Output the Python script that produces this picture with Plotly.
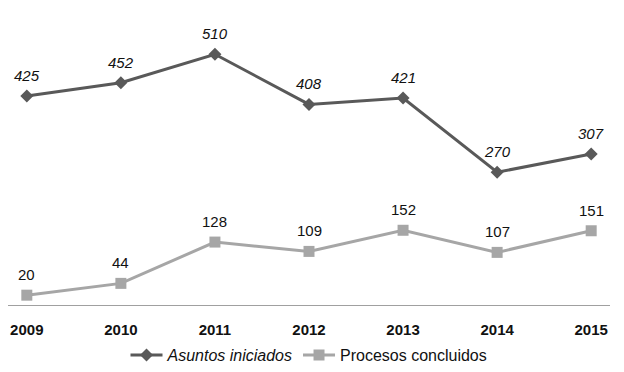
import plotly.graph_objects as go

years = [2009, 2010, 2011, 2012, 2013, 2014, 2015]
asuntos = [425, 452, 510, 408, 421, 270, 307]
procesos = [20, 44, 128, 109, 152, 107, 151]

dark = "#595959"
light = "#A6A6A6"
FONT = "Liberation Sans, Arial"

fig = go.Figure()
fig.add_trace(go.Scatter(
    x=years, y=asuntos, mode="lines+markers", name="<i>Asuntos iniciados</i>",
    line=dict(color=dark, width=3), marker=dict(symbol="diamond", size=10, color=dark),
))
fig.add_trace(go.Scatter(
    x=years, y=procesos, mode="lines+markers", name="Procesos concluidos",
    line=dict(color=light, width=3), marker=dict(symbol="square", size=11, color=light),
))

annotations = []
for x, v in zip(years, asuntos):
    annotations.append(dict(x=x, y=v, xref="x", yref="y", text=f"<i>{v}</i>",
                            showarrow=False, yanchor="bottom", yshift=10,
                            font=dict(family=FONT, size=15, color="#111111")))
for x, v in zip(years, procesos):
    annotations.append(dict(x=x, y=v, xref="x", yref="y", text=str(v),
                            showarrow=False, yanchor="bottom", yshift=10,
                            font=dict(family=FONT, size=15, color="#111111")))

fig.update_layout(
    width=616, height=364,
    margin=dict(l=0, r=14, t=2, b=67, autoexpand=False),
    paper_bgcolor="white", plot_bgcolor="white",
    font=dict(family=FONT, size=14, color="#111111"),
    showlegend=True,
    annotations=annotations,
    legend=dict(orientation="h", x=0.5, xanchor="center", y=-0.17, yanchor="middle",
                font=dict(size=16), itemwidth=32, tracegroupgap=0),
    xaxis=dict(range=[2008.8, 2015.2], showgrid=False, zeroline=False,
               automargin=False,
               showline=True, linecolor="#A0A0A0", linewidth=1,
               ticks="outside", ticklen=11, tickcolor="rgba(0,0,0,0)",
               tickfont=dict(family=FONT, size=15, color="#111111"),
               tickvals=years, ticktext=[f"<b>{y}</b>" for y in years]),
    yaxis=dict(range=[0, 600], visible=False, showgrid=False, zeroline=False,
               automargin=False),
)

fig.write_html("out.html")
